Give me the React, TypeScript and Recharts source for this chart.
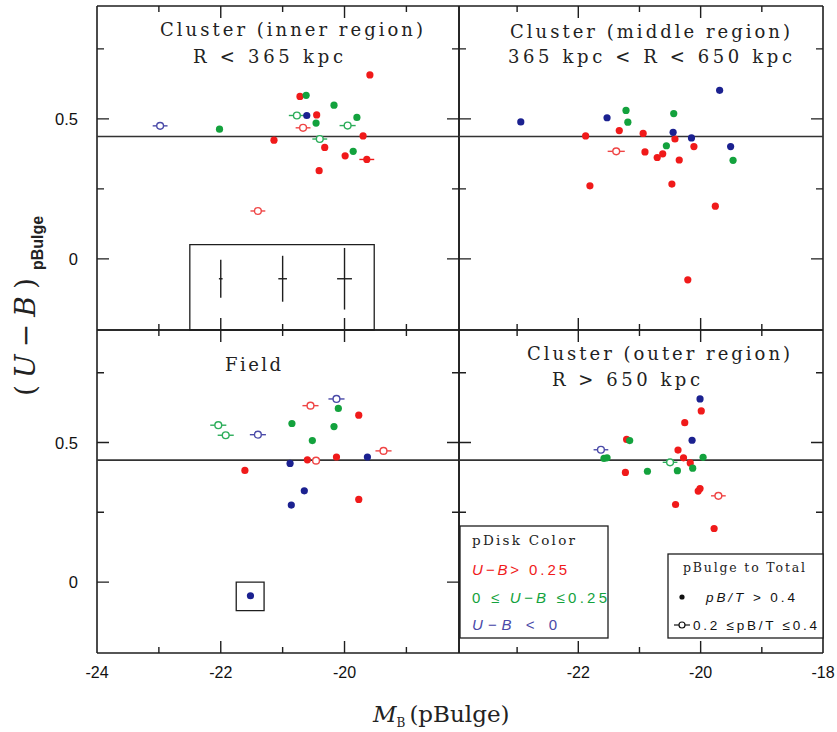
import type { ReactNode } from "react";
import {
  ErrorBar,
  ReferenceArea,
  ReferenceLine,
  Scatter,
  ScatterChart,
  XAxis,
  YAxis,
} from "recharts";

// [M_B, (U-B) pBulge, pDisk colour class, 1 = 0.2<=pB/T<=0.4 (open), M_B error]
type Row = [number, number, "r" | "g" | "b", 0 | 1, number];

const innerRegion: Row[] = [
  [-22.98, 0.475, "b", 1, 0.12],
  [-22.02, 0.463, "g", 0, 0],
  [-21.14, 0.424, "r", 0, 0],
  [-20.72, 0.58, "r", 0, 0],
  [-20.62, 0.584, "g", 0, 0],
  [-20.77, 0.512, "g", 1, 0.13],
  [-20.61, 0.512, "b", 0, 0],
  [-20.45, 0.514, "r", 0, 0],
  [-20.67, 0.468, "r", 1, 0.12],
  [-20.46, 0.485, "g", 0, 0],
  [-20.17, 0.549, "g", 0, 0],
  [-19.8, 0.505, "g", 0, 0],
  [-19.95, 0.476, "g", 1, 0.13],
  [-19.59, 0.657, "r", 0, 0],
  [-19.7, 0.439, "r", 0, 0],
  [-20.4, 0.428, "g", 1, 0.12],
  [-20.32, 0.398, "r", 0, 0],
  [-19.86, 0.384, "g", 0, 0],
  [-19.99, 0.368, "r", 0, 0],
  [-19.64, 0.355, "r", 0, 0.12],
  [-20.41, 0.315, "r", 0, 0],
  [-21.4, 0.171, "r", 1, 0.12],
];

const middleRegion: Row[] = [
  [-22.94, 0.489, "b", 0, 0],
  [-21.53, 0.504, "b", 0, 0],
  [-21.22, 0.53, "g", 0, 0],
  [-21.19, 0.488, "g", 0, 0],
  [-21.33, 0.458, "r", 0, 0],
  [-21.88, 0.439, "r", 0, 0],
  [-20.94, 0.448, "r", 0, 0],
  [-21.38, 0.384, "r", 1, 0.14],
  [-20.91, 0.382, "r", 0, 0],
  [-20.71, 0.362, "r", 0, 0],
  [-20.62, 0.375, "r", 0, 0],
  [-20.56, 0.404, "g", 0, 0],
  [-20.44, 0.519, "g", 0, 0],
  [-20.45, 0.452, "b", 0, 0],
  [-20.42, 0.428, "r", 0, 0],
  [-20.15, 0.432, "b", 0, 0],
  [-20.11, 0.401, "r", 0, 0],
  [-20.35, 0.353, "r", 0, 0],
  [-19.69, 0.602, "b", 0, 0],
  [-19.51, 0.401, "b", 0, 0],
  [-19.47, 0.352, "g", 0, 0],
  [-21.81, 0.261, "r", 0, 0],
  [-20.47, 0.267, "r", 0, 0],
  [-19.76, 0.188, "r", 0, 0],
  [-20.21, -0.075, "r", 0, 0],
];

const fieldSample: Row[] = [
  [-22.04, 0.562, "g", 1, 0.13],
  [-21.92, 0.526, "g", 1, 0.13],
  [-21.4, 0.528, "b", 1, 0.13],
  [-21.61, 0.4, "r", 0, 0],
  [-20.85, 0.568, "g", 0, 0],
  [-20.55, 0.632, "r", 1, 0.13],
  [-20.13, 0.656, "b", 1, 0.13],
  [-20.1, 0.622, "g", 0, 0],
  [-19.77, 0.598, "r", 0, 0],
  [-20.17, 0.557, "g", 0, 0],
  [-20.52, 0.507, "g", 0, 0],
  [-19.37, 0.47, "r", 1, 0.13],
  [-19.63, 0.448, "b", 0, 0],
  [-20.13, 0.448, "r", 0, 0],
  [-20.6, 0.438, "r", 0, 0],
  [-20.46, 0.435, "r", 1, 0.05],
  [-20.88, 0.425, "b", 0, 0],
  [-20.65, 0.327, "b", 0, 0],
  [-20.86, 0.276, "b", 0, 0],
  [-19.77, 0.296, "r", 0, 0],
  [-21.52, -0.049, "b", 0, 0],
];

const outerRegion: Row[] = [
  [-21.63, 0.474, "b", 1, 0.12],
  [-21.58, 0.443, "g", 0, 0],
  [-21.53, 0.445, "g", 0, 0],
  [-21.21, 0.511, "r", 0, 0],
  [-21.16, 0.507, "g", 0, 0],
  [-21.23, 0.393, "r", 0, 0],
  [-20.87, 0.397, "g", 0, 0],
  [-20.5, 0.429, "g", 1, 0.12],
  [-20.38, 0.399, "g", 0, 0],
  [-20.37, 0.473, "r", 0, 0],
  [-20.28, 0.445, "r", 0, 0],
  [-20.17, 0.427, "r", 0, 0],
  [-20.13, 0.408, "g", 0, 0],
  [-19.96, 0.447, "g", 0, 0],
  [-20.14, 0.508, "b", 0, 0],
  [-20.26, 0.571, "r", 0, 0],
  [-19.99, 0.613, "r", 0, 0],
  [-20.01, 0.656, "b", 0, 0],
  [-20.04, 0.326, "r", 0, 0],
  [-20.01, 0.335, "r", 0, 0],
  [-19.71, 0.309, "r", 1, 0.12],
  [-20.41, 0.278, "r", 0, 0],
  [-19.78, 0.192, "r", 0, 0],
];

// typical error bars shown in the inner-region panel
const typicalErrors = [
  { mb: -22, ub: -0.071, xerr: 0.03, yerr: 0.068 },
  { mb: -21, ub: -0.071, xerr: 0.07, yerr: 0.082 },
  { mb: -20, ub: -0.071, xerr: 0.12, yerr: 0.11 },
];

const colourLimit = 0.437;
const xTickValues = [-24, -23, -22, -21, -20, -19, -18];
const yTickValues = [0, 0.25, 0.5, 0.75];
const yDomain: [number, number] = [-0.254, 0.903];

const FILL = { r: "#f01a1a", g: "#13a23d", b: "#1b2190" };
const OPEN = { r: "#ef4545", g: "#2cad5a", b: "#4a4aa8" };
const INK = "#1e1e1e";

const AXIS_H = 30;
const AXIS_W = 40;

type PanelCfg = {
  rows: Row[];
  sx: number;
  sy: number;
  sw: number;
  sh: number;
  plot: [number, number, number, number];
  xDom: [number, number];
  xLabels: number[];
  yLabels: boolean;
  extra?: "errors" | "fieldBox";
};

const panels: PanelCfg[] = [
  { rows: innerRegion, sx: 0, sy: 0, sw: 470, sh: 372, plot: [97, 6, 459, 330], xDom: [-24, -18.15], xLabels: [], yLabels: true, extra: "errors" },
  { rows: middleRegion, sx: 410, sy: 0, sw: 427, sh: 372, plot: [459, 6, 823, 330], xDom: [-23.95, -18], xLabels: [], yLabels: false },
  { rows: fieldSample, sx: 0, sy: 320, sw: 470, sh: 400, plot: [97, 330, 459, 653], xDom: [-24, -18.15], xLabels: [-24, -22, -20], yLabels: true, extra: "fieldBox" },
  { rows: outerRegion, sx: 410, sy: 320, sw: 427, sh: 400, plot: [459, 330, 823, 653], xDom: [-23.95, -18], xLabels: [-22, -20, -18], yLabels: false },
];

const noMarker = () => <g />;

// inward tick marks along the four sides of a panel frame
function frameTicks(cfg: PanelCfg) {
  const [px0, py0, px1, py1] = cfg.plot;
  const [x0, x1] = cfg.xDom;
  const [y0, y1] = yDomain;
  const toX = (v: number) => px0 + ((v - x0) / (x1 - x0)) * (px1 - px0);
  const toY = (v: number) => py1 - ((v - y0) / (y1 - y0)) * (py1 - py0);
  let d = "";
  xTickValues
    .filter((v) => v > x0 && v < x1)
    .forEach((v) => {
      const len = v % 2 === 0 ? 12 : 6;
      const X = toX(v);
      d += `M${X},${py1}V${py1 - len}M${X},${py0}V${py0 + len}`;
    });
  yTickValues.forEach((v) => {
    const len = v === 0 || v === 0.5 ? 12 : 7;
    const Y = toY(v);
    d += `M${px0},${Y}H${px0 + len}M${px1},${Y}H${px1 - len}`;
  });
  return d;
}

function Panel({ cfg }: { cfg: PanelCfg }) {
  const [px0, py0, px1, py1] = cfg.plot;
  const top = py0 - cfg.sy;
  const bottom = py1 - cfg.sy;
  const left = px0 - cfg.sx;
  const right = px1 - cfg.sx;
  const margin = {
    left: left - AXIS_W,
    top,
    right: cfg.sw - right,
    bottom: cfg.sh - bottom - AXIS_H,
  };
  const [x0, x1] = cfg.xDom;
  const [y0, y1] = yDomain;
  const xtAll = xTickValues.filter((v) => v >= x0 - 0.06 && v <= x1 + 0.01);

  const groups: { key: string; col: "r" | "g" | "b"; open: boolean; data: { mb: number; ub: number; err: number }[] }[] = [];
  (["r", "g", "b"] as const).forEach((col) => {
    [0, 1].forEach((o) => {
      const data = cfg.rows
        .filter((r) => r[2] === col && r[3] === o)
        .map((r) => ({ mb: r[0], ub: r[1], err: r[4] }));
      if (data.length) groups.push({ key: col + o, col, open: o === 1, data });
    });
  });

  const XTick = (p: any) => {
    const v = p.payload.value as number;
    if (!cfg.xLabels.includes(v)) return <g />;
    return (
      <text x={p.x} y={bottom + 25} textAnchor="middle" fontFamily="Liberation Sans, Arial" fontSize={16} fill="#111">
        {String(v)}
      </text>
    );
  };

  const YTick = (p: any) => {
    const v = p.payload.value as number;
    const label = v === 0.5 ? "0.5" : v === 0 ? "0" : "";
    if (!cfg.yLabels || !label) return <g />;
    return (
      <text x={left - 19} y={p.y + 6} textAnchor="end" fontFamily="Liberation Sans, Arial" fontSize={16.5} fill="#111">
        {label}
      </text>
    );
  };

  return (
    <div style={{ position: "absolute", left: cfg.sx, top: cfg.sy }}>
      <ScatterChart width={cfg.sw} height={cfg.sh} margin={margin}>
        <XAxis
          type="number"
          dataKey="mb"
          domain={cfg.xDom}
          allowDataOverflow
          ticks={xtAll}
          interval={0}
          height={AXIS_H}
          axisLine={false}
          tickLine={false}
          tick={<XTick />}
        />
        <YAxis
          type="number"
          dataKey="ub"
          domain={yDomain}
          allowDataOverflow
          ticks={yTickValues}
          interval={0}
          width={AXIS_W}
          axisLine={false}
          tickLine={false}
          tick={<YTick />}
        />
        {/* panel frame */}
        <ReferenceLine x={x0} stroke={INK} strokeWidth={1.6} ifOverflow="visible" />
        <ReferenceLine x={x1} stroke={INK} strokeWidth={1.6} ifOverflow="visible" />
        <ReferenceLine y={y0} stroke={INK} strokeWidth={1.6} ifOverflow="visible" />
        <ReferenceLine y={y1} stroke={INK} strokeWidth={1.6} ifOverflow="visible" />
        <ReferenceLine y={colourLimit} stroke="#333" strokeWidth={1.6} ifOverflow="visible" />
        {cfg.extra === "errors" && (
          <ReferenceArea x1={-22.5} x2={-19.52} y1={y0} y2={0.051} ifOverflow="visible" fill="none" fillOpacity={0} stroke={INK} strokeWidth={1.3} />
        )}
        {cfg.extra === "fieldBox" && (
          <ReferenceArea x1={-21.75} x2={-21.3} y1={-0.102} y2={0.0} ifOverflow="visible" fill="none" fillOpacity={0} stroke={INK} strokeWidth={1.3} />
        )}
        {cfg.extra === "errors" && (
          <Scatter data={typicalErrors} isAnimationActive={false} shape={noMarker}>
            <ErrorBar dataKey="yerr" direction="y" width={0} stroke={INK} strokeWidth={1.4} isAnimationActive={false} />
            <ErrorBar dataKey="xerr" direction="x" width={0} stroke={INK} strokeWidth={1.4} isAnimationActive={false} />
          </Scatter>
        )}
        {groups.map((g) => (
          <Scatter
            key={g.key}
            data={g.data}
            isAnimationActive={false}
            shape={(p: any) =>
              g.open ? (
                <circle cx={p.cx} cy={p.cy} r={3.4} fill="#fff" stroke={OPEN[g.col]} strokeWidth={1.4} />
              ) : (
                <circle cx={p.cx} cy={p.cy} r={3.6} fill={FILL[g.col]} />
              )
            }
          >
            {g.data.some((d) => d.err > 0) && (
              <ErrorBar
                dataKey="err"
                direction="x"
                width={0}
                stroke={g.open ? OPEN[g.col] : FILL[g.col]}
                strokeWidth={1.4}
                isAnimationActive={false}
              />
            )}
          </Scatter>
        ))}
      </ScatterChart>
    </div>
  );
}

const SERIF = "DejaVu Serif, Liberation Serif, serif";

function Txt({ x, y, w, size = 17, fill = "#222", family = SERIF, weight = 400, children }: {
  x: number; y: number; w?: number; size?: number; fill?: string; family?: string; weight?: number; children: ReactNode;
}) {
  return (
    <text
      x={x}
      y={y}
      fontFamily={family}
      fontSize={size}
      fill={fill}
      fontWeight={weight}
      textLength={w}
      lengthAdjust={w ? "spacing" : undefined}
    >
      {children}
    </text>
  );
}

export default function App() {
  return (
    <div style={{ position: "absolute", left: 0, top: 0, width: 837, height: 732, background: "#fff", overflow: "hidden" }}>
      {panels.map((cfg, i) => (
        <Panel key={i} cfg={cfg} />
      ))}
      <svg width={837} height={732} style={{ position: "absolute", left: 0, top: 0, pointerEvents: "none" }}>
        {/* frame ticks */}
        {panels.map((cfg, i) => (
          <path key={i} d={frameTicks(cfg)} stroke={INK} strokeWidth={1.4} fill="none" />
        ))}

        {/* panel titles */}
        <Txt x={160} y={36} w={263} size={18}>Cluster (inner region)</Txt>
        <Txt x={193} y={63} w={150} size={18}>R &lt; 365 kpc</Txt>
        <Txt x={510} y={38} w={280} size={18}>Cluster (middle region)</Txt>
        <Txt x={508} y={63} w={284} size={18}>365 kpc &lt; R &lt; 650 kpc</Txt>
        <Txt x={225} y={371} w={56} size={18}>Field</Txt>
        <Txt x={527} y={360} w={263} size={18}>Cluster (outer region)</Txt>
        <Txt x={552} y={386} w={148} size={18}>R &gt; 650 kpc</Txt>

        {/* pDisk colour key */}
        <rect x={460} y={526} width={148} height={112} fill="#fff" stroke={INK} strokeWidth={1.3} />
        <Txt x={472} y={545} w={103} size={13.5}>pDisk Color</Txt>
        <Txt x={472} y={575} w={95} size={15} fill={FILL.r} family="Liberation Sans, Arial">
          <tspan fontStyle="italic">U−B</tspan>&gt; 0.25
        </Txt>
        <Txt x={472} y={603} w={135} size={15} fill={FILL.g} family="Liberation Sans, Arial">
          0 ≤ <tspan fontStyle="italic">U−B</tspan> ≤0.25
        </Txt>
        <Txt x={472} y={630} w={85} size={15} fill={OPEN.b} family="Liberation Sans, Arial">
          <tspan fontStyle="italic">U−B</tspan>   &lt; 0
        </Txt>

        {/* pBulge-to-total key */}
        <rect x={668} y={554} width={155} height={84} fill="#fff" stroke={INK} strokeWidth={1.3} />
        <Txt x={683} y={572} w={122} size={12.5}>pBulge to Total</Txt>
        <circle cx={682} cy={597} r={2.6} fill="#111" />
        <Txt x={706} y={602} w={89} size={13.5} family="Liberation Sans, Arial" fill="#111">
          <tspan fontStyle="italic">pB/T</tspan> &gt; 0.4
        </Txt>
        <line x1={674} x2={690} y1={625} y2={625} stroke="#111" strokeWidth={1.2} />
        <circle cx={682} cy={625} r={3} fill="#fff" stroke="#111" strokeWidth={1.2} />
        <Txt x={693} y={630} w={124} size={13.5} family="Liberation Sans, Arial" fill="#111">
          0.2 ≤pB/T ≤0.4
        </Txt>

        {/* axis titles */}
        <text x={373} y={722} fontFamily={SERIF} fontSize={23} fill="#222">
          <tspan fontStyle="italic">M</tspan>
          <tspan fontSize={12} dy={5}>B</tspan>
          <tspan dy={-5} dx={4}>(pBulge)</tspan>
        </text>
        <text transform="translate(35,337) rotate(-90)" textAnchor="middle" fontFamily={SERIF} fontSize={28} fill="#222" textLength={118} lengthAdjust="spacing">
          (<tspan fontStyle="italic">U−B</tspan>)
        </text>
        <text transform="translate(43,243) rotate(-90)" textAnchor="middle" fontFamily="Liberation Sans, Arial" fontWeight={700} fontSize={16} fill="#222">
          pBulge
        </text>
      </svg>
    </div>
  );
}
